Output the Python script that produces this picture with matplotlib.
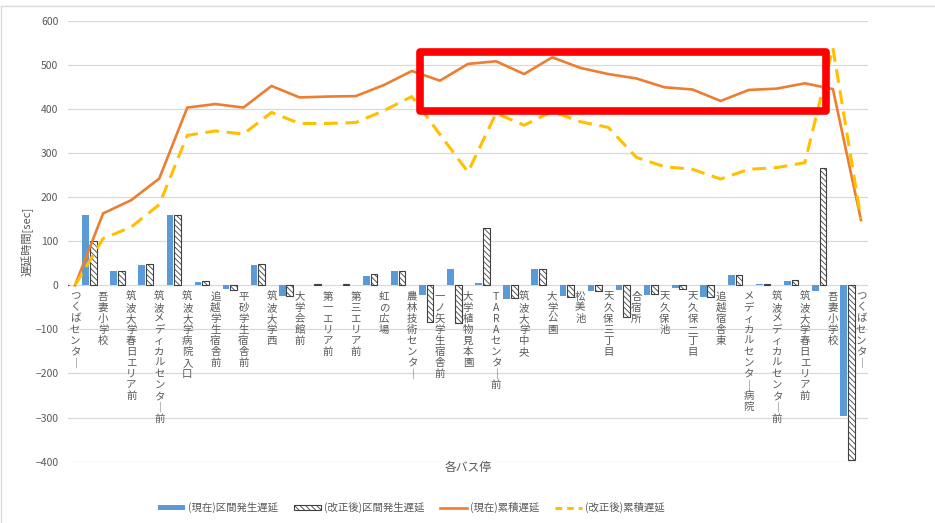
import matplotlib
matplotlib.use("Agg")
import matplotlib.pyplot as plt
from matplotlib.patches import Patch, Rectangle
from matplotlib.lines import Line2D
import numpy as np

plt.rcParams["font.family"] = ["Noto Sans CJK JP", "DejaVu Sans"]
plt.rcParams["hatch.linewidth"] = 0.6

# bus stops along the route (there and back)
stops = [
    "つくばセンター", "吾妻小学校", "筑波大学春日エリア前", "筑波メディカルセンター前",
    "筑波大学病院入口", "追越学生宿舎前", "平砂学生宿舎前", "筑波大学西", "大学会館前",
    "第一エリア前", "第三エリア前", "虹の広場", "農林技術センター", "一ノ矢学生宿舎前",
    "大学植物見本園", "TARAセンター前", "筑波大学中央", "大学公園", "松美池",
    "天久保三丁目", "合宿所", "天久保池", "天久保二丁目", "追越宿舎東",
    "メディカルセンター病院", "筑波メディカルセンター前", "筑波大学春日エリア前",
    "吾妻小学校", "つくばセンター",
]

# section delay [sec]
current_section = [0, 160, 32, 47, 159, 7, -8, 47, -25, 1, 1, 22, 32, -23, 36,
                   5, -30, 36, -25, -13, -11, -21, -6, -26, 23, 2, 9, -13, -297]
revised_section = [0, 101, 33, 49, 160, 9, -10, 49, -24, 2, 2, 25, 32, -84, -86,
                   129, -29, 38, -26, -14, -72, -20, -8, -26, 24, 4, 11, 265, -397]

# cumulative delay [sec]
current_cum = [0, 163, 193, 242, 403, 411, 403, 452, 426, 428, 429, 454, 486, 464, 502,
               508, 479, 517, 493, 479, 469, 449, 444, 418, 443, 446, 458, 445, 148]
revised_cum = [0, 106, 132, 183, 340, 350, 343, 392, 367, 367, 369, 396, 428, 342, 257,
               390, 363, 394, 371, 358, 290, 269, 263, 241, 263, 267, 278, 538, 151]

series_names = ["(現在)区間発生遅延", "(改正後)区間発生遅延", "(現在)累積遅延", "(改正後)累積遅延"]
yticks = list(range(-400, 601, 100))

# highlighted region (stop index range, delay range)
highlight = (12.3, 26.75, 396, 530)

BLUE = "#5B9BD5"
ORANGE = "#ED7D31"
YELLOW = "#FFC000"
GREY = "#595959"
HATCH = "\\" * 6

fig = plt.figure(figsize=(9.35, 5.23), dpi=100)
ax = fig.add_axes([68 / 935, 1 - 461.7 / 523, 800 / 935, 441 / 523])

x = np.arange(len(stops))
w = 0.24
ax.bar(x - 0.62, current_section, w, color=BLUE, zorder=2)
ax.bar(x - 0.35, revised_section, w, color="white", edgecolor="#404040",
       linewidth=0.8, hatch=HATCH, zorder=2)
ax.plot(x, current_cum, color=ORANGE, lw=1.9, solid_joinstyle="round", zorder=3)
ax.plot(x, revised_cum, color=YELLOW, lw=2.2, dashes=(4.5, 2.5), zorder=4)

ax.set_xlim(-0.25, len(stops) - 0.75)
ax.set_ylim(-400, 600)
ax.set_yticks(yticks)
ax.set_xticks([])
ax.grid(axis="y", color="#d9d9d9", lw=0.9, zorder=0)
ax.set_axisbelow(True)
for s in ax.spines.values():
    s.set_visible(False)
ax.tick_params(axis="y", length=0, pad=7, labelsize=7.5, labelcolor=GREY)

# vertical (tategaki) category labels hanging from the zero line
vert = {"ー": "｜"}
for i, name in enumerate(stops):
    txt = "\n".join(vert.get(c, c) for c in name)
    ax.annotate(txt, xy=(i, 0), xytext=(0, -4.5), textcoords="offset points",
                ha="center", va="top", fontsize=7.5, color=GREY, zorder=5,
                multialignment="center", linespacing=1.13)

ax.set_ylabel("遅延時間[sec]", fontsize=8, color=GREY, labelpad=1)
fig.text(468 / 935, 1 - 468 / 523, "各バス停", ha="center", va="center",
         fontsize=8.5, color=GREY)

x0, x1, y0, y1 = highlight
ax.add_patch(Rectangle((x0, y0), x1 - x0, y1 - y0, fill=False, edgecolor="#FF0000",
                       lw=5.5, joinstyle="round", zorder=6, clip_on=False))

handles = [
    Patch(facecolor=BLUE, edgecolor="none"),
    Patch(facecolor="white", edgecolor="#404040", hatch=HATCH, lw=0.8),
    Line2D([], [], color=ORANGE, lw=1.9),
    Line2D([], [], color=YELLOW, lw=2.2, dashes=(2.2, 1.6)),
]
fig.legend(handles, series_names, loc="center", bbox_to_anchor=(0.44, 0.029),
           ncol=4, frameon=False, fontsize=7.5, labelcolor=GREY,
           handlelength=2.6, handleheight=0.35, handletextpad=0.3, columnspacing=1.5)

# chart area border (top / left)
fig.add_artist(Line2D([1 / 935, 1], [1 - 6 / 523] * 2, color="#d9d9d9", lw=1))
fig.add_artist(Line2D([1 / 935] * 2, [0, 1 - 6 / 523], color="#d9d9d9", lw=1))

fig.savefig("out.png", dpi=100)
